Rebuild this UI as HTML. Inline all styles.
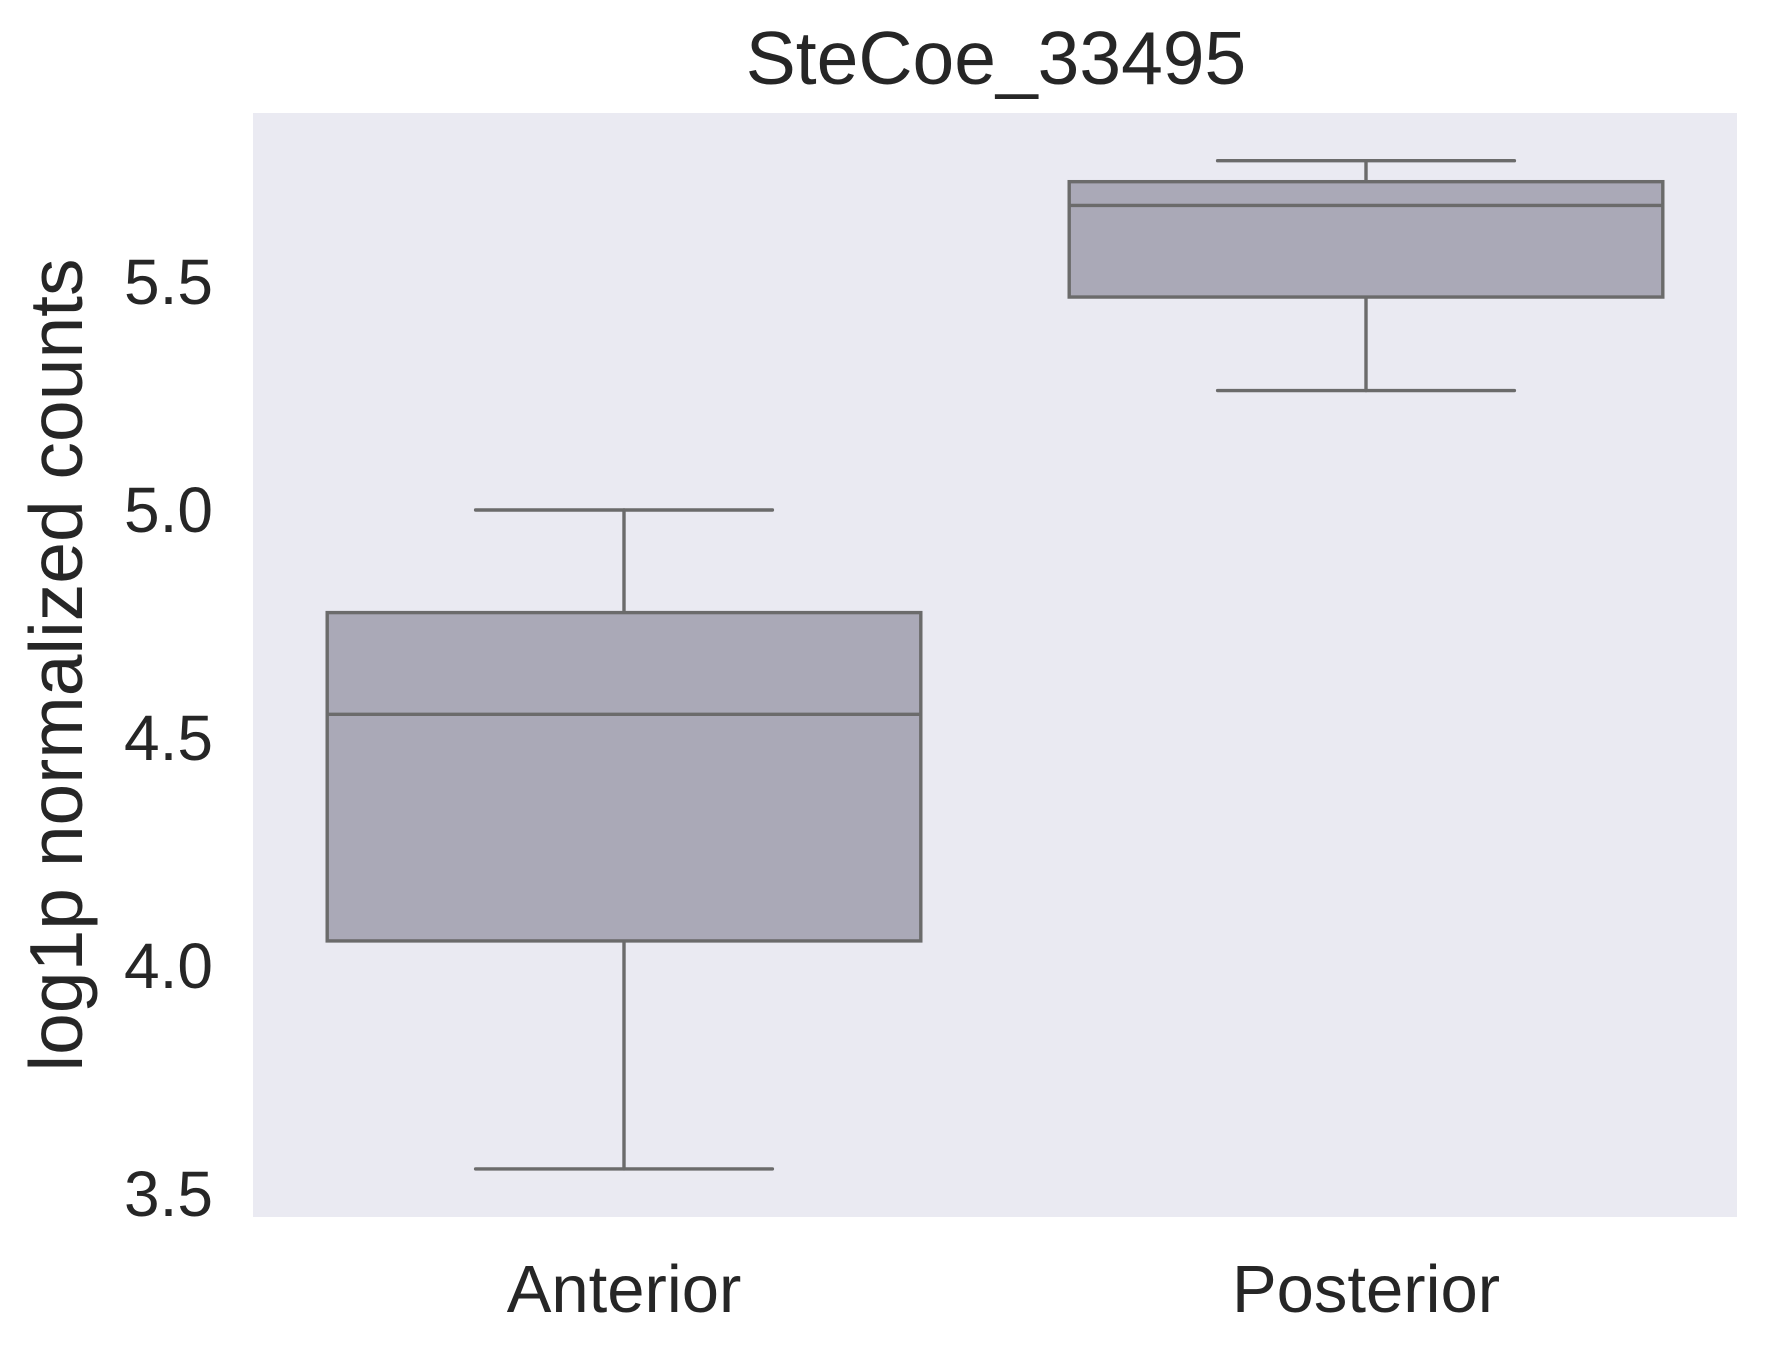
<!DOCTYPE html>
<html><head><meta charset="utf-8"><style>
html,body{margin:0;padding:0;background:#fff;}
svg{display:block;font-family:"Liberation Sans",Arial,sans-serif;}
</style></head><body>
<svg id="chart" width="1766" height="1350" viewBox="0 0 1766 1350" xmlns="http://www.w3.org/2000/svg">
<rect x="253" y="113" width="1484" height="1104" fill="#eaeaf2"/>
<text x="996" y="84" font-size="75" fill="#262626" text-anchor="middle">SteCoe_33495</text>
<text x="0" y="0" font-size="75" fill="#262626" text-anchor="middle" transform="translate(82,665) rotate(-90)">log1p normalized counts</text>
<g id="yticks"></g>
<g id="xticks"></g>
<g id="boxes"></g>
</svg>
<script>
const categories = ["Anterior", "Posterior"];
const whiskerLow = [3.555, 5.262];
const q1 = [4.055, 5.467];
const median = [4.552, 5.668];
const q3 = [4.775, 5.72];
const whiskerHigh = [5.0, 5.766];
const yTicks = [3.5, 4.0, 4.5, 5.0, 5.5];
const yTickLabels = ["3.5", "4.0", "4.5", "5.0", "5.5"];

const NS = "http://www.w3.org/2000/svg";
const plotL = 253, plotW = 1484;
function y(v){ return 510 - (v - 5.0) * 456; }
function xc(i){ return plotL + plotW / categories.length * (i + 0.5); }
const band = plotW / categories.length;
function mk(tag, attrs, parent){
  const e = document.createElementNS(NS, tag);
  for (const k in attrs) e.setAttribute(k, attrs[k]);
  parent.appendChild(e);
  return e;
}
const yg = document.getElementById("yticks");
yTicks.forEach((v, i) => {
  const t = mk("text", {x: 213, y: y(v) + 22, "font-size": 64, fill: "#262626", "text-anchor": "end"}, yg);
  
  
  t.textContent = yTickLabels[i];
});
const xg = document.getElementById("xticks");
categories.forEach((c, i) => {
  const t = mk("text", {x: xc(i), y: 1312, "font-size": 67, fill: "#262626", "text-anchor": "middle"}, xg);
  
  
  t.textContent = c;
});
const bg = document.getElementById("boxes");
const st = {stroke: "#6b6b6b", "stroke-width": 3.4, "stroke-linecap": "round"};
categories.forEach((c, i) => {
  const cx = xc(i), bw = band * 0.8, cw = band * 0.4;
  const g = mk("g", {}, bg);
  
  
  const wl = mk("line", Object.assign({x1: cx, x2: cx, y1: y(q1[i]), y2: y(whiskerLow[i])}, st), g);
  
  
  const wh = mk("line", Object.assign({x1: cx, x2: cx, y1: y(q3[i]), y2: y(whiskerHigh[i])}, st), g);
  
  
  const cl = mk("line", Object.assign({x1: cx - cw/2, x2: cx + cw/2, y1: y(whiskerLow[i]), y2: y(whiskerLow[i])}, st), g);
  
  
  const ch = mk("line", Object.assign({x1: cx - cw/2, x2: cx + cw/2, y1: y(whiskerHigh[i]), y2: y(whiskerHigh[i])}, st), g);
  
  
  const r = mk("rect", {x: cx - bw/2, y: y(q3[i]), width: bw, height: y(q1[i]) - y(q3[i]), fill: "#aaa9b7", stroke: "#6b6b6b", "stroke-width": 3.4}, g);
  
  
  const m = mk("line", Object.assign({x1: cx - bw/2, x2: cx + bw/2, y1: y(median[i]), y2: y(median[i])}, st), g);
  
  
});
</script>
</body></html>
